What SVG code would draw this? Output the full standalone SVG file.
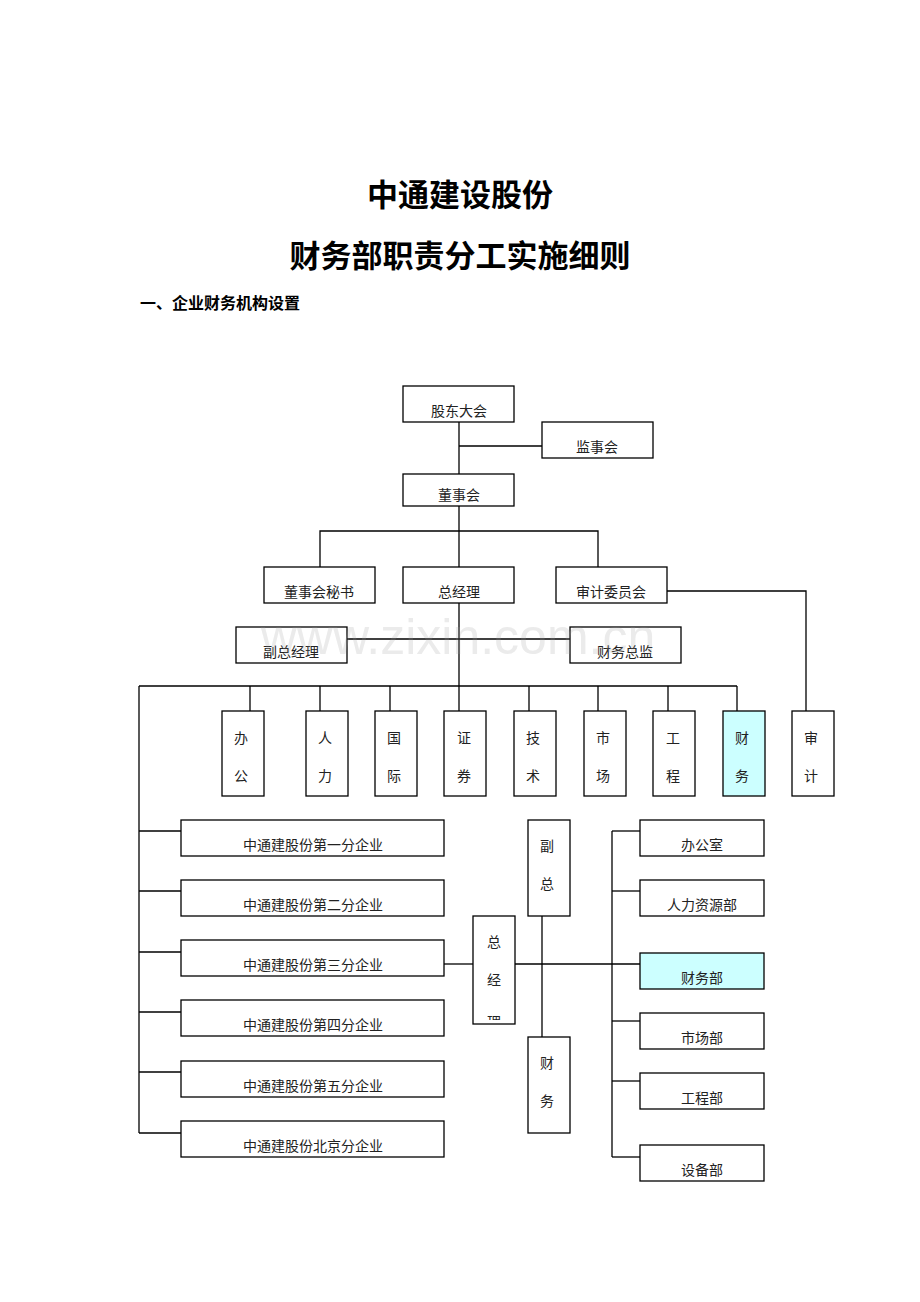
<svg xmlns="http://www.w3.org/2000/svg" width="920" height="1302" viewBox="0 0 920 1302">
<style>
rect{fill:#fff;stroke:#000;stroke-width:1.3}
rect.hl{fill:#ccffff}
line,polyline{stroke:#000;stroke-width:1.3;fill:none}
text{font-family:"Noto Sans CJK SC","Liberation Serif",serif;font-size:14px;text-anchor:middle;fill:#222}
.t{font-family:"Noto Sans CJK SC",sans-serif;font-weight:bold;font-size:31px;fill:#000}
.h{font-family:"Noto Sans CJK SC",sans-serif;font-weight:bold;font-size:16px;text-anchor:start;fill:#000}
.wm{font-family:"Liberation Sans",sans-serif;font-size:50px;fill:#999;fill-opacity:0.2}
</style>
<rect x="0" y="0" width="920" height="1302" style="stroke:none"/>
<text class="t" x="460" y="206">中通建设股份</text>
<text class="t" x="460" y="267">财务部职责分工实施细则</text>
<text class="h" x="140" y="309">一、企业财务机构设置</text>
<g id="connectors">
<line x1="459" y1="422" x2="459" y2="474"/>
<line x1="459" y1="446" x2="542" y2="446"/>
<line x1="459" y1="506" x2="459" y2="567"/>
<polyline points="320,567 320,531 598,531 598,567"/>
<polyline points="667,591 806,591 806,711"/>
<line x1="459" y1="603" x2="459" y2="711"/>
<line x1="347" y1="639" x2="570" y2="639"/>
<line x1="139" y1="686" x2="737" y2="686"/>
<line x1="250" y1="686" x2="250" y2="711"/>
<line x1="320" y1="686" x2="320" y2="711"/>
<line x1="390" y1="686" x2="390" y2="711"/>
<line x1="529" y1="686" x2="529" y2="711"/>
<line x1="598" y1="686" x2="598" y2="711"/>
<line x1="668" y1="686" x2="668" y2="711"/>
<line x1="737" y1="686" x2="737" y2="711"/>
<line x1="139" y1="686" x2="139" y2="1133"/>
<line x1="139" y1="831" x2="181" y2="831"/>
<line x1="139" y1="891" x2="181" y2="891"/>
<line x1="139" y1="952" x2="181" y2="952"/>
<line x1="139" y1="1012" x2="181" y2="1012"/>
<line x1="139" y1="1072" x2="181" y2="1072"/>
<line x1="139" y1="1133" x2="181" y2="1133"/>
<line x1="444" y1="964" x2="473" y2="964"/>
<line x1="515" y1="964" x2="640" y2="964"/>
<line x1="542" y1="916" x2="542" y2="1037"/>
<line x1="612" y1="831" x2="612" y2="1157"/>
<line x1="612" y1="831" x2="640" y2="831"/>
<line x1="612" y1="891" x2="640" y2="891"/>
<line x1="612" y1="1021" x2="640" y2="1021"/>
<line x1="612" y1="1081" x2="640" y2="1081"/>
<line x1="612" y1="1157" x2="640" y2="1157"/>
</g>
<g id="n1"><rect x="403" y="386" width="111" height="36"/><text x="459" y="416">股东大会</text></g>
<g id="n2"><rect x="542" y="422" width="111" height="36"/><text x="597" y="452">监事会</text></g>
<g id="n3"><rect x="403" y="474" width="111" height="32"/><text x="459" y="500">董事会</text></g>
<g id="n4"><rect x="264" y="567" width="111" height="36"/><text x="319" y="597">董事会秘书</text></g>
<g id="n5"><rect x="403" y="567" width="111" height="36"/><text x="459" y="597">总经理</text></g>
<g id="n6"><rect x="556" y="567" width="111" height="36"/><text x="611" y="597">审计委员会</text></g>
<g id="n7"><rect x="236" y="627" width="111" height="36"/><text x="291" y="657">副总经理</text></g>
<g id="n8"><rect x="570" y="627" width="111" height="36"/><text x="625" y="657">财务总监</text></g>
<g id="v1"><rect x="222" y="711" width="42" height="85"/><text x="241" y="743">办</text><text x="241" y="781">公</text></g>
<g id="v2"><rect x="306" y="711" width="42" height="85"/><text x="325" y="743">人</text><text x="325" y="781">力</text></g>
<g id="v3"><rect x="375" y="711" width="42" height="85"/><text x="394" y="743">国</text><text x="394" y="781">际</text></g>
<g id="v4"><rect x="444" y="711" width="42" height="85"/><text x="464" y="743">证</text><text x="464" y="781">券</text></g>
<g id="v5"><rect x="514" y="711" width="42" height="85"/><text x="533" y="743">技</text><text x="533" y="781">术</text></g>
<g id="v6"><rect x="584" y="711" width="42" height="85"/><text x="603" y="743">市</text><text x="603" y="781">场</text></g>
<g id="v7"><rect x="653" y="711" width="42" height="85"/><text x="673" y="743">工</text><text x="673" y="781">程</text></g>
<g id="v8"><rect class="hl" x="723" y="711" width="42" height="85"/><text x="742" y="743">财</text><text x="742" y="781">务</text></g>
<g id="v9"><rect x="792" y="711" width="42" height="85"/><text x="811" y="743">审</text><text x="811" y="781">计</text></g>
<g id="b1"><rect x="181" y="820" width="263" height="36"/><text x="313" y="850">中通建股份第一分企业</text></g>
<g id="b2"><rect x="181" y="880" width="263" height="36"/><text x="313" y="910">中通建股份第二分企业</text></g>
<g id="b3"><rect x="181" y="940" width="263" height="36"/><text x="313" y="970">中通建股份第三分企业</text></g>
<g id="b4"><rect x="181" y="1000" width="263" height="36"/><text x="313" y="1030">中通建股份第四分企业</text></g>
<g id="b5"><rect x="181" y="1061" width="263" height="36"/><text x="313" y="1091">中通建股份第五分企业</text></g>
<g id="b6"><rect x="181" y="1121" width="263" height="36"/><text x="313" y="1151">中通建股份北京分企业</text></g>
<defs><clipPath id="c"><rect x="473" y="916" width="42" height="104"/></clipPath></defs>
<g id="gm"><rect x="473" y="916" width="42" height="108"/><text x="494" y="947">总</text><text x="494" y="985">经</text><text x="494" y="1027" clip-path="url(#c)">理</text></g>
<g id="vp"><rect x="528" y="820" width="42" height="96"/><text x="547" y="851">副</text><text x="547" y="889">总</text></g>
<g id="cf"><rect x="528" y="1037" width="42" height="96"/><text x="547" y="1068">财</text><text x="547" y="1106">务</text></g>
<g id="r1"><rect x="640" y="820" width="124" height="36"/><text x="702" y="850">办公室</text></g>
<g id="r2"><rect x="640" y="880" width="124" height="36"/><text x="702" y="910">人力资源部</text></g>
<g id="r3"><rect class="hl" x="640" y="953" width="124" height="36"/><text x="702" y="983">财务部</text></g>
<g id="r4"><rect x="640" y="1013" width="124" height="36"/><text x="702" y="1043">市场部</text></g>
<g id="r5"><rect x="640" y="1073" width="124" height="36"/><text x="702" y="1103">工程部</text></g>
<g id="r6"><rect x="640" y="1145" width="124" height="36"/><text x="702" y="1175">设备部</text></g>
<text class="wm" x="458" y="654">www.zixin.com.cn</text>
</svg>
